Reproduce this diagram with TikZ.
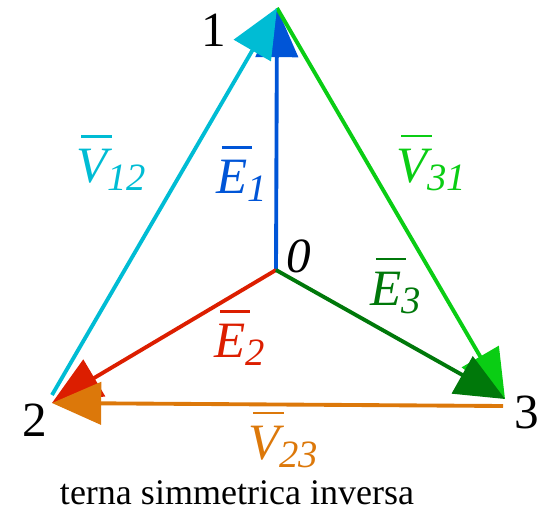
\documentclass[tikz,border=0pt]{standalone}
\usepackage{fontspec}
\setmainfont{Liberation Serif}
\usetikzlibrary{arrows.meta}
\definecolor{cblue}{RGB}{0,85,215}
\definecolor{ccyan}{RGB}{0,188,212}
\definecolor{cgreen}{RGB}{10,205,20}
\definecolor{cdgreen}{RGB}{0,120,10}
\definecolor{cred}{RGB}{220,30,0}
\definecolor{corange}{RGB}{220,120,10}
% barred italic letter with lowered index
\newcommand{\vlab}[2]{{\itshape\rlap{\hspace{0.1em}\rule[0.88em]{0.6em}{0.045em}}#1\raisebox{-0.16em}{\fontsize{22}{24}\selectfont #2}}}
\tikzset{
  phasor/.style={line width=2.2pt, -{Triangle[length=28pt,width=24pt]}},
  lbl/.style={font=\fontsize{28}{30}\selectfont, inner sep=0pt},
  vlbl/.style={font=\fontsize{29}{32}\selectfont, inner sep=0pt}
}
\begin{document}
\begin{tikzpicture}[x=0.02cm, y=-0.02cm]
\useasboundingbox (0,0) rectangle (550,510);
% vertices
\coordinate (c0) at (276,270);
\coordinate (c1) at (277,8);
\coordinate (c2) at (52,403);
\coordinate (c3) at (505,399);
\coordinate (s12) at (52,395);
\coordinate (s23) at (503,406);
% phasors
\draw[phasor, cblue] (c0) -- (c1);
\draw[phasor, cred] (c0) -- (c2);
\draw[phasor, cgreen] (c1) -- (c3);
\draw[phasor, ccyan] (s12) -- (c1);
\draw[phasor, corange] (s23) -- (c2);
\draw[phasor, cdgreen] (c0) -- (c3);
% labels
\node[lbl] (l1) at (214,30) {1};
\node[lbl] (l2) at (35,420) {2};
\node[lbl] (l3) at (527,412) {3};
\node[lbl, font=\fontsize{28}{30}\selectfont\itshape] (l0) at (299,256) {0};
\node[vlbl, text=ccyan] (v12) at (111,163) {\vlab{V}{12}};
\node[vlbl, text=cblue] (e1) at (242,174) {\vlab{E}{1}};
\node[vlbl, text=cgreen] (v31) at (431,163) {\vlab{V}{31}};
\node[vlbl, text=cdgreen] (e3) at (396,286) {\vlab{E}{3}};
\node[vlbl, text=cred] (e2) at (240,338) {\vlab{E}{2}};
\node[vlbl, text=corange] (v23) at (283,440) {\vlab{V}{23}};
\node[font=\fontsize{20.5}{24}\selectfont, inner sep=0pt] (cap) at (237,493) {terna simmetrica inversa};
\end{tikzpicture}
\end{document}
